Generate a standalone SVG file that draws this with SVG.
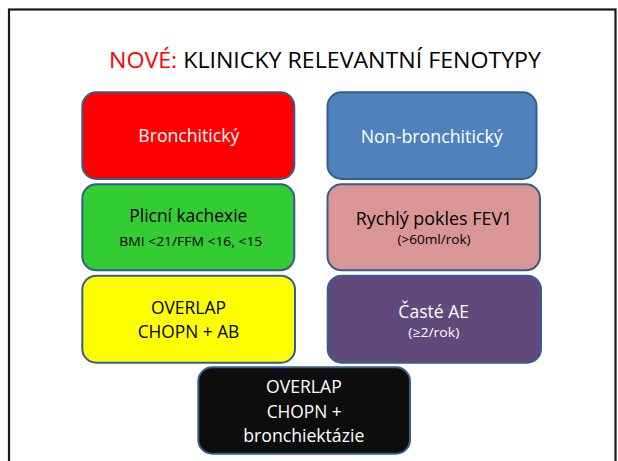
<svg xmlns="http://www.w3.org/2000/svg" width="618" height="461" viewBox="0 0 618 461">
<style>
.box{stroke:#385D8A;stroke-width:2}
text{font-family:"Open Sans","Liberation Sans",sans-serif;text-anchor:middle}
.l{font-size:18.5px}
.s{font-size:13px}
.w{fill:#FFFFFF}
.k{fill:#000000}
</style>
<rect x="0" y="0" width="618" height="461" fill="#FFFFFF"/>
<rect x="9" y="9.5" width="606.5" height="470" fill="none" stroke="#1A1A1A" stroke-width="2.2"/>
<g id="title">
<text x="325" y="67.5" style="font-size:21.5px" textLength="432" lengthAdjust="spacingAndGlyphs"><tspan fill="#FF0000">NOVÉ:</tspan><tspan fill="#000000"> KLINICKY RELEVANTNÍ FENOTYPY</tspan></text>
</g>
<g id="connectors"></g>
<g id="bronchiticky">
<rect class="box" x="82.3" y="92.3" width="212" height="86.7" rx="14" fill="#FF0000"/>
<text class="l w" x="188.8" y="142.3" textLength="101" lengthAdjust="spacingAndGlyphs">Bronchitický</text>
</g>
<g id="non-bronchiticky">
<rect class="box" x="327.5" y="92.3" width="209" height="86.7" rx="14" fill="#4F81BD"/>
<text class="l w" x="431.7" y="142.8" textLength="142" lengthAdjust="spacingAndGlyphs">Non-bronchitický</text>
</g>
<g id="plicni-kachexie">
<rect class="box" x="82.3" y="184.3" width="212" height="86" rx="14" fill="#33CC33"/>
<text class="l k" x="188.3" y="221.7" textLength="118" lengthAdjust="spacingAndGlyphs">Plicní kachexie</text>
<text class="s k" x="190.8" y="246" textLength="143" lengthAdjust="spacingAndGlyphs">BMI &lt;21/FFM &lt;16, &lt;15</text>
</g>
<g id="rychly-pokles">
<rect class="box" x="327.5" y="184.3" width="212.5" height="86" rx="14" fill="#D99694"/>
<text class="l k" x="434" y="225" textLength="156.6" lengthAdjust="spacingAndGlyphs">Rychlý pokles FEV1</text>
<text class="s k" x="434" y="243.7" textLength="73" lengthAdjust="spacingAndGlyphs">(&gt;60ml/rok)</text>
</g>
<g id="overlap-ab">
<rect class="box" x="82.3" y="275.7" width="212.7" height="87" rx="14" fill="#FFFF00"/>
<text class="l k" x="188.4" y="314.3" textLength="75" lengthAdjust="spacingAndGlyphs">OVERLAP</text>
<text class="l k" x="188.5" y="338.3" textLength="101.6" lengthAdjust="spacingAndGlyphs">CHOPN + AB</text>
</g>
<g id="caste-ae">
<rect class="box" x="327.7" y="275.7" width="213.3" height="87" rx="14" fill="#604A7B"/>
<text class="l w" x="433.7" y="317.7" textLength="70.7" lengthAdjust="spacingAndGlyphs">Časté AE</text>
<text class="s w" x="433.8" y="336.7" textLength="51" lengthAdjust="spacingAndGlyphs">(≥2/rok)</text>
</g>
<g id="overlap-bronchiektazie">
<rect class="box" x="198.3" y="367.3" width="211.7" height="86.4" rx="14" fill="#0D0D0D"/>
<text class="l w" x="303.9" y="393.3" textLength="75.7" lengthAdjust="spacingAndGlyphs">OVERLAP</text>
<text class="l w" x="304.2" y="417.7" textLength="75" lengthAdjust="spacingAndGlyphs">CHOPN +</text>
<text class="l w" x="303.8" y="441.7" textLength="121" lengthAdjust="spacingAndGlyphs">bronchiektázie</text>
</g>
</svg>
